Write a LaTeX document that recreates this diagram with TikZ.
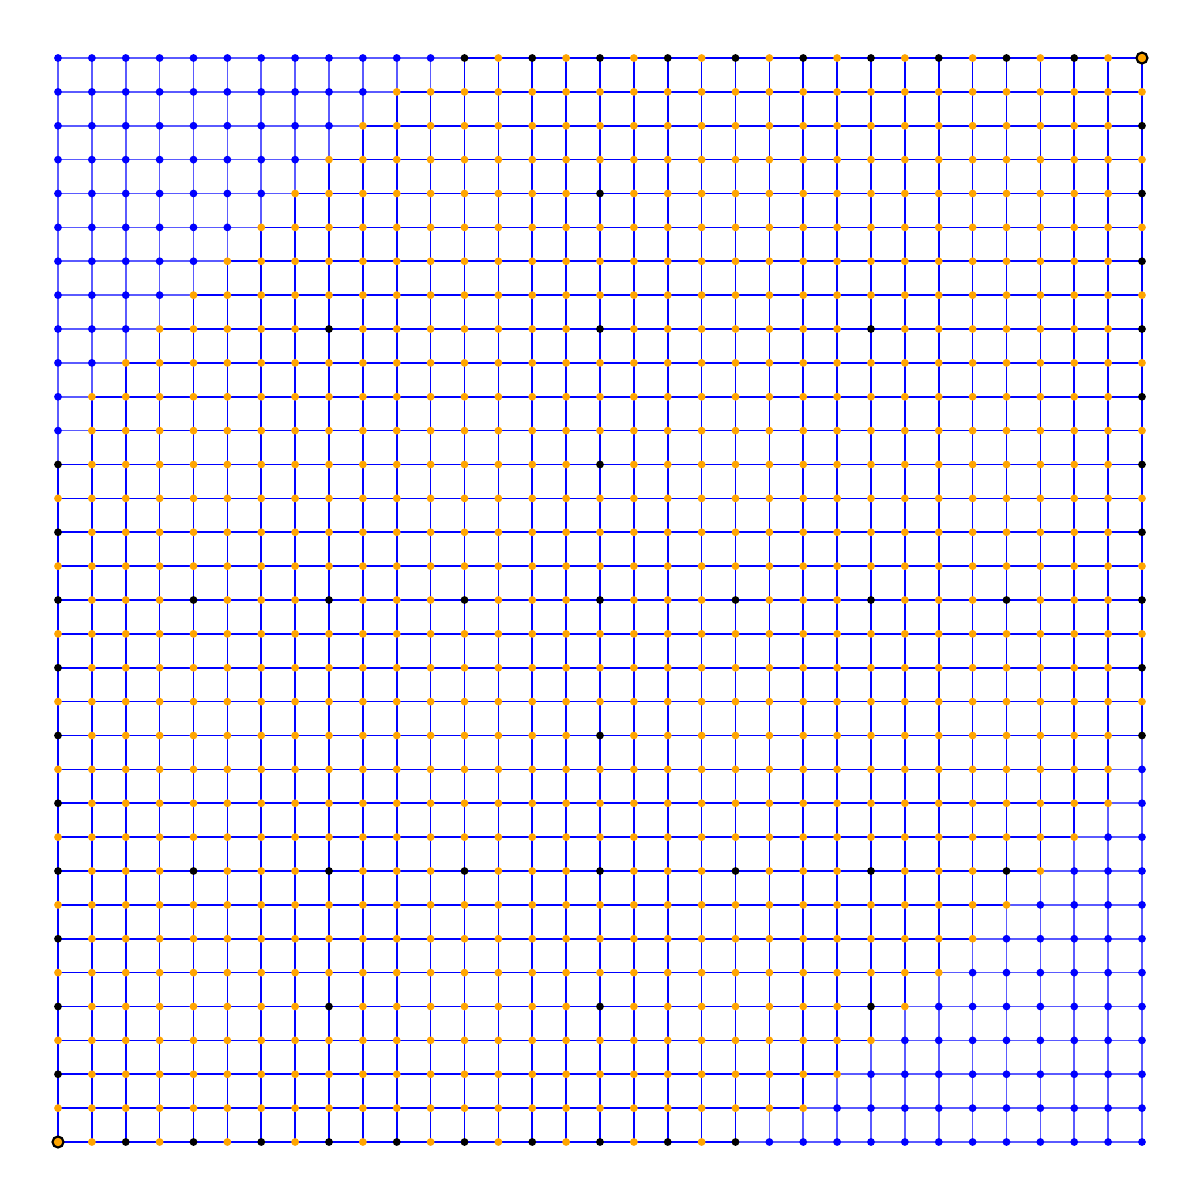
\documentclass[tikz,border=0pt]{standalone}
\usetikzlibrary{backgrounds}
\definecolor{dotorange}{HTML}{FFA500}
\definecolor{dotblue}{HTML}{0000FF}
\definecolor{edgedark}{HTML}{0000FF}
\definecolor{edgelight}{HTML}{5A5AFF}
\newcommand{\mybluetest}[2]{%
  \pgfmathtruncatemacro\myisb{((#1+32-#2)<=10) || ((#1==11) && (#2==32)) || ((#1==0) && (#2==21)) || ((32-#1+#2)<=10) || ((#1==21) && (#2==0)) || ((#1==32) && (#2==11))}%
}
\newcommand{\myblacktest}[2]{%
  \pgfmathtruncatemacro\myisk{((#2==0) && (mod(#1,2)==0) && (#1>=2) && (#1<=20)) || ((#2==32) && (mod(#1,2)==0) && (#1>=12) && (#1<=30)) || ((#1==0) && (mod(#2,2)==0) && (#2>=2) && (#2<=20)) || ((#1==32) && (mod(#2,2)==0) && (#2>=12) && (#2<=30)) || ((#2==16) && (mod(#1,4)==0)) || ((#2==8) && (mod(#1,4)==0) && (#1<=28)) || ((#2==24) && (mod(#1,8)==0) && (#1>=8)) || ((#2==4) && (mod(#1,8)==0) && (#1<=24)) || ((#1==16) && (mod(#2,4)==0))}%
}
\tikzset{
  gdot/.style={circle, inner sep=0pt, minimum size=0.078cm, draw=none},
  bdot/.style={gdot, fill=dotblue},
  kdot/.style={gdot, fill=black},
  odot/.style={gdot, fill=dotorange},
  cdot/.style={circle, inner sep=0pt, minimum size=0.11cm, fill=dotorange, draw=black, line width=0.6pt},
  dedge/.style={draw=edgedark, line width=0.45pt},
  ledge/.style={draw=edgelight, line width=0.45pt},
}
\begin{document}
\begin{tikzpicture}
\useasboundingbox (0,0) rectangle (12,12);
% nodes
\foreach \i in {0,...,32} {
  \foreach \j in {0,...,32} {
    \mybluetest{\i}{\j}%
    \myblacktest{\i}{\j}%
    \ifnum\myisb=1 \def\mystyle{bdot}\else\ifnum\myisk=1 \def\mystyle{kdot}\else\def\mystyle{odot}\fi\fi
    \ifnum\i=0 \ifnum\j=0 \def\mystyle{cdot}\fi\fi
    \ifnum\i=32 \ifnum\j=32 \def\mystyle{cdot}\fi\fi
    \node[\mystyle] (n-\i-\j) at ({0.58+\i*0.33875},{0.58+\j*0.33875}) {};
    \expandafter\xdef\csname isb@\i @\j\endcsname{\myisb}%
  }
}
% edges
\begin{pgfonlayer}{background}
\fill[white] (0,0) rectangle (12,12);
\foreach \i in {0,...,32} {
  \foreach \j in {0,...,32} {
    \ifnum\i<32
      \pgfmathtruncatemacro\mynxi{\i+1}%
      \ifnum\numexpr\csname isb@\i @\j\endcsname+\csname isb@\mynxi @\j\endcsname\relax>0 \def\myes{ledge}\else\def\myes{dedge}\fi
      \draw[\myes] (n-\i-\j.center) -- (n-\mynxi-\j.center);
    \fi
    \ifnum\j<32
      \pgfmathtruncatemacro\mynxj{\j+1}%
      \ifnum\numexpr\csname isb@\i @\j\endcsname+\csname isb@\i @\mynxj\endcsname\relax>0 \def\myes{ledge}\else\def\myes{dedge}\fi
      \draw[\myes] (n-\i-\j.center) -- (n-\i-\mynxj.center);
    \fi
  }
}
\end{pgfonlayer}
\end{tikzpicture}
\end{document}
